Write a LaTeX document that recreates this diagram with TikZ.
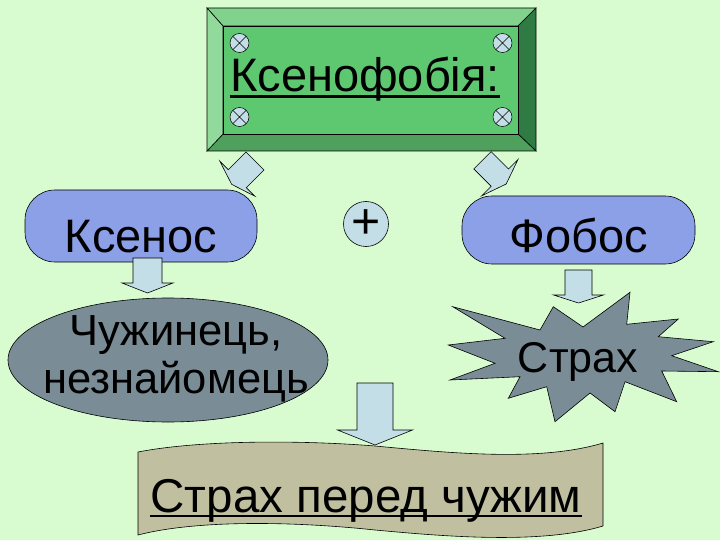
\documentclass[tikz,border=0pt]{standalone}
\usepackage{fontspec}
\setmainfont{Liberation Sans}
\usetikzlibrary{shapes.geometric}

\definecolor{bgmint}{RGB}{216,252,208}
\definecolor{plate}{RGB}{93,200,112}
\definecolor{bevtop}{RGB}{128,210,140}
\definecolor{bevleft}{RGB}{145,218,155}
\definecolor{bevbot}{RGB}{78,160,92}
\definecolor{bevright}{RGB}{48,122,68}
\definecolor{pill}{RGB}{140,160,232}
\definecolor{slate}{RGB}{122,140,150}
\definecolor{tape}{RGB}{192,192,160}
\definecolor{arrowblue}{RGB}{196,222,232}

\tikzset{
  outline/.style={draw=black, line width=0.6pt, line join=miter},
  capsule/.style={outline, fill=pill, rounded corners=30pt, inner xsep=0pt, inner ysep=0pt,
    font=\fontsize{47}{56}\selectfont},
  txt/.style={inner sep=0pt, anchor=base},
  bolt/.style={draw=black, line width=0.5pt, fill=arrowblue},
  arrowbody/.style={outline, fill=arrowblue},
  pics/blockarr/.style args={#1/#2/#3/#4}{code={
    \draw[arrowbody] (-#1/2,0) -- (#1/2,0) -- (#1/2,#2) -- (#3/2,#2) -- (0,#2+#4)
      -- (-#3/2,#2) -- (-#1/2,#2) -- cycle;
  }}
}

\begin{document}
\begin{tikzpicture}[x=1pt, y=-1pt]
\useasboundingbox[fill=bgmint] (0,0) rectangle (720,540);

% title plate with bevel
\coordinate (o1) at (207,8);   \coordinate (o2) at (536,8);
\coordinate (o3) at (536,151); \coordinate (o4) at (207,151);
\coordinate (i1) at (223,26);  \coordinate (i2) at (518,26);
\coordinate (i3) at (518,134); \coordinate (i4) at (223,134);
\draw[outline, fill=bevtop] (o1) -- (o2) -- (i2) -- (i1) -- cycle;
\draw[outline, fill=bevright] (o2) -- (o3) -- (i3) -- (i2) -- cycle;
\draw[outline, fill=bevbot] (o3) -- (o4) -- (i4) -- (i3) -- cycle;
\draw[outline, fill=bevleft] (o4) -- (o1) -- (i1) -- (i4) -- cycle;
\draw[outline, fill=plate] (i1) rectangle (i3);
\foreach \bx/\by in {239.5/43, 502.5/43, 239.5/117, 502.5/117}
  \draw[bolt] (\bx,\by) circle (9.5pt) +(-6.7,-6.7) -- +(6.7,6.7) +(-6.7,6.7) -- +(6.7,-6.7);
\node[txt, font=\fontsize{47}{56}\selectfont] (title) at (365,92) {Ксенофобія:};
\draw[line width=3pt] ([yshift=-5pt]title.base west) -- ([yshift=-5pt]title.base east);

% the two roots
\node[capsule, minimum width=232pt, text height=62pt, text depth=10pt] (ksenos) at (141,226) {Ксенос};
\node[capsule, minimum width=233pt, text height=56pt, text depth=12pt] (fobos) at (578.5,230) {Фобос};
\node[circle, outline, fill=arrowblue, minimum size=45pt, inner sep=0pt,
  font=\fontsize{50}{50}\selectfont] (plus) at (366,224) {+};

% meanings
\node[ellipse, outline, fill=slate, minimum width=320pt, minimum height=124pt, inner sep=0pt] (chuzh) at (168,360) {};
\node[align=center, inner sep=0pt, font=\fontsize{43.5}{48}\selectfont] (chuzhtxt) at (176,359) {Чужинець,\\незнайомець};

\draw[outline, fill=slate] (452.7,306.7) -- (540,330) -- (553.3,306.7) -- (583,327) -- (630,292.3)
  -- (626.7,324.3) -- (678.3,319) -- (658.3,336.7) -- (713.3,341.7) -- (671.7,355.7)
  -- (718.3,371.7) -- (661.7,371) -- (676.7,401.7) -- (625,381.7) -- (615,411.7)
  -- (590,393) -- (555,421.7) -- (546.7,386.7) -- (508.3,398.3) -- (520,376.7)
  -- (450,380) -- (495,363.3) -- (448.3,345) -- (505,338.3) -- cycle;
\node[txt, font=\fontsize{43}{50}\selectfont] (strakh) at (578,372) {Страх};

% result
\draw[outline, fill=tape] (138,452) .. controls (200,440) and (300,440) .. (375,446)
  .. controls (450,453) and (540,462) .. (603,443) -- (603,526)
  .. controls (540,545) and (440,536) .. (375,530)
  .. controls (300,522) and (200,519) .. (138,535) -- cycle;
\node[txt, font=\fontsize{47.5}{56}\selectfont] (result) at (366,512) {Страх перед чужим};
\draw[line width=2.5pt] ([yshift=-4pt]result.base west) -- ([yshift=-4pt]result.base east);

% block arrows
\pic[rotate=-45] at (255,161) {blockarr=25.5/25/49.5/8};
\pic[rotate=45] at (482.5,160.3) {blockarr=24.5/24.5/51.5/9};
\pic at (147.5,258) {blockarr=29/25/51/10};
\pic at (578.5,270) {blockarr=27/25/50/8};
\pic at (375,383) {blockarr=36/47/75/15};
\end{tikzpicture}
\end{document}
